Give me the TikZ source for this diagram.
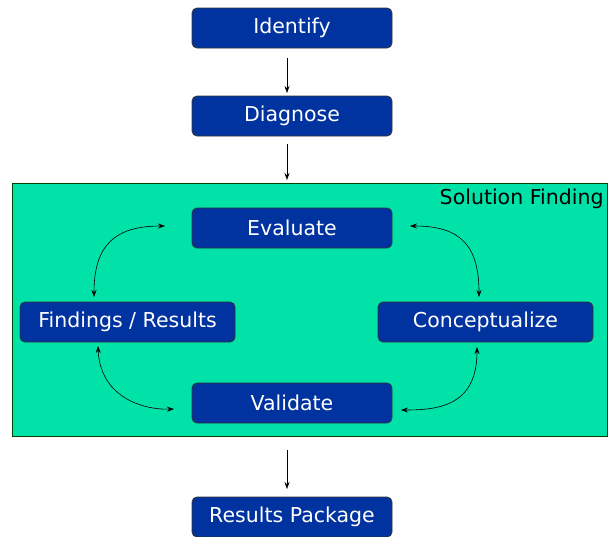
\documentclass[tikz,border=0pt]{standalone}
\usepackage{fontspec}
\setmainfont{DejaVu Sans}
\usetikzlibrary{arrows.meta}
\definecolor{boxblue}{RGB}{0,51,160}
\definecolor{areagreen}{RGB}{0,226,168}
\begin{document}
\begin{tikzpicture}[x=1pt,y=-1pt,
  stepbox/.style={draw=black!80,line width=0.8pt,fill=boxblue,rounded corners=5pt,text=white,font=\fontsize{20.5}{24}\selectfont,inner sep=0pt},
  arr/.style={-{Stealth[length=7pt,width=5pt]},line width=0.6pt},
  darr/.style={{Stealth[length=7pt,width=5pt]}-{Stealth[length=7pt,width=5pt]},line width=0.6pt}]
\useasboundingbox (0,0) rectangle (612,536);
\node[draw=black!75!green,line width=1pt,fill=areagreen,minimum width=595pt,minimum height=253pt,inner sep=0pt] (area) at (309.5,309.5) {};
\node[font=\fontsize{20.5}{24}\selectfont,anchor=east] (sf) at (607,199) {Solution Finding};
\node[stepbox,minimum width=200pt,minimum height=40pt] (id) at (292,28) {Identify};
\node[stepbox,minimum width=200pt,minimum height=40pt] (dg) at (292,116) {Diagnose};
\node[stepbox,minimum width=200pt,minimum height=40pt] (ev) at (292,228) {Evaluate};
\node[stepbox,minimum width=215pt,minimum height=40pt] (fr) at (127.5,322) {Findings / Results};
\node[stepbox,minimum width=215pt,minimum height=40pt] (co) at (485.5,322) {Conceptualize};
\node[stepbox,minimum width=200pt,minimum height=40pt] (va) at (292,403) {Validate};
\node[stepbox,minimum width=200pt,minimum height=40pt] (rp) at (292,517) {Results Package};
\coordinate (a1s) at (287,58);
\coordinate (a1e) at (287,93);
\coordinate (a2s) at (287,144);
\coordinate (a2e) at (287,180);
\coordinate (a3s) at (287,450);
\coordinate (a3e) at (287,489);
\draw[arr] (a1s) -- (a1e);
\draw[arr] (a2s) -- (a2e);
\draw[arr] (a3s) -- (a3e);
\coordinate (lt1) at (165,226);
\coordinate (lt2) at (94,297);
\coordinate (rt1) at (410,226);
\coordinate (rt2) at (479,297);
\coordinate (lb1) at (98,346);
\coordinate (lb2) at (174,409);
\coordinate (rb1) at (401,410);
\coordinate (rb2) at (477,347);
\draw[darr] (lt1) .. controls (115,226) and (94,245) .. (lt2);
\draw[darr] (rt1) .. controls (460,226) and (479,245) .. (rt2);
\draw[darr] (lb1) .. controls (100,395) and (140,410) .. (lb2);
\draw[darr] (rb1) .. controls (440,410) and (477,405) .. (rb2);
\end{tikzpicture}
\end{document}
